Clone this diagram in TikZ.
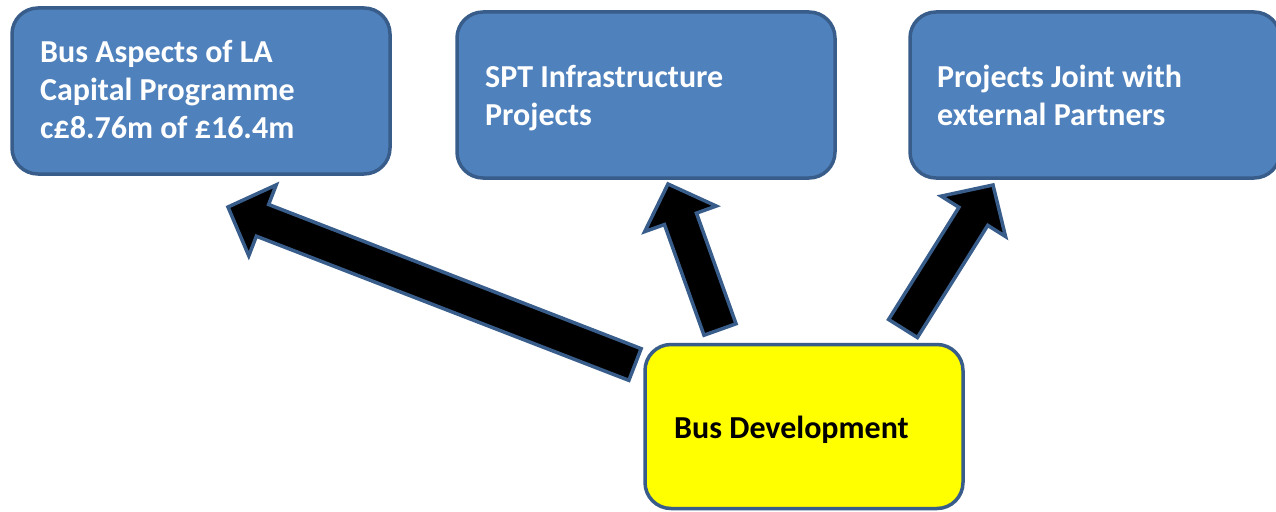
\documentclass[tikz,border=0pt]{standalone}
\usepackage{fontspec}
\setmainfont{Carlito}
\usetikzlibrary{calc}
\definecolor{boxblue}{HTML}{4F81BD}
\definecolor{edgeblue}{HTML}{385D8A}
\definecolor{boxyellow}{HTML}{FFFF00}
\tikzset{
  box/.style={draw=edgeblue, line width=3.5pt, rounded corners=26pt, fill=boxblue, inner sep=0pt},
  ybox/.style={box, fill=boxyellow},
  label/.style={anchor=base west, inner sep=0pt,
    font=\bfseries\fontsize{32}{38}\selectfont, text=white},
  ylabel/.style={label, text=black},
  blockarrow/.style={draw=edgeblue, line width=3.5pt, fill=black, line join=miter}
}
\newcommand{\lines}[1]{\begin{tabular}[t]{@{}l@{}}#1\end{tabular}}
% #1 tail, #2 tip
\newcommand{\blockarr}[2]{%
  \path ($(#2)!37pt!(#1)$) coordinate (hb);
  \draw[blockarrow]
    ($(#1)!17pt!90:(#2)$) -- ($(hb)!17pt!90:(#2)$) -- ($(hb)!38pt!90:(#2)$) -- (#2)
    -- ($(hb)!38pt!-90:(#2)$) -- ($(hb)!17pt!-90:(#2)$) -- ($(#1)!17pt!-90:(#2)$) -- cycle;
}
\begin{document}
\begin{tikzpicture}[x=1pt,y=-1pt]
\useasboundingbox (0,0) rectangle (1276,511);
\fill[white] (0,0) rectangle (1276,511);

\node[box, minimum width=378pt, minimum height=166pt] (b1) at (201,91) {};
\node[box, minimum width=378pt, minimum height=166pt] (b2) at (646,95) {};
\node[box, minimum width=370pt, minimum height=166pt] (b3) at (1095,95) {};
\node[ybox, minimum width=318pt, minimum height=164pt] (bd) at (804,426.5) {};

\node[label] (t1) at (40,63) {\lines{Bus Aspects of LA\\Capital Programme\\c£8.76m of £16.4m}};
\node[label] (t2) at (485,87) {\lines{SPT Infrastructure\\Projects}};
\node[label] (t3) at (937,87) {\lines{Projects Joint with\\external Partners}};
\node[ylabel] (td) at (674,438) {Bus Development};

\coordinate (a1s) at (635,364.5);
\coordinate (a1e) at (228,207);
\coordinate (a2s) at (720,329.5);
\coordinate (a2e) at (668,184);
\coordinate (a3s) at (903,328.5);
\coordinate (a3e) at (993,185);

\blockarr{a1s}{a1e}
\blockarr{a2s}{a2e}
\blockarr{a3s}{a3e}
\end{tikzpicture}
\end{document}
